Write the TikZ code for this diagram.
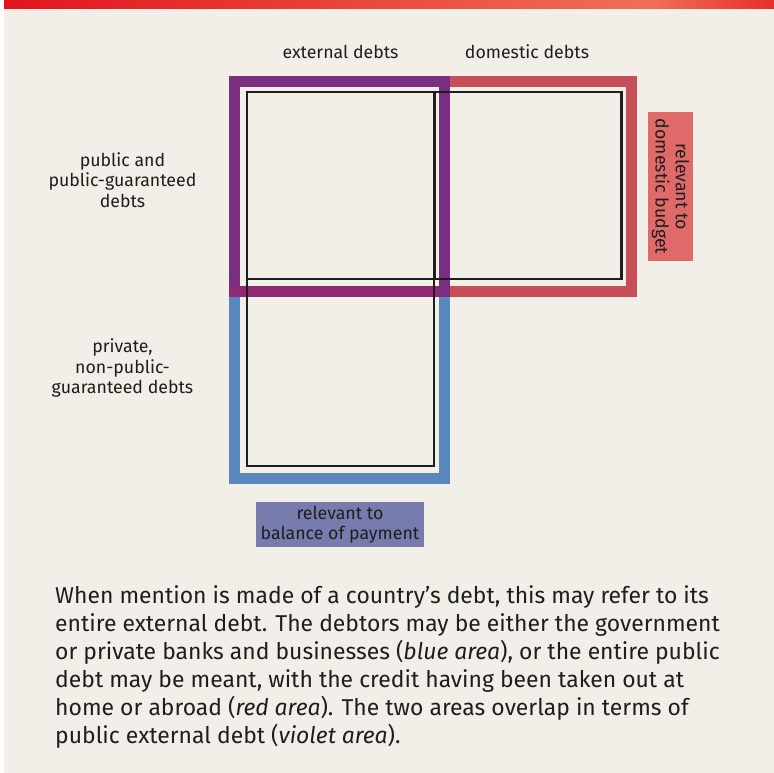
\documentclass[tikz,border=0pt]{standalone}
\usepackage{fontspec}
\setmainfont{Fira Sans}
\definecolor{bgbeige}{HTML}{F2EFE8}
\definecolor{barred}{HTML}{E2141B}
\definecolor{barsalmon}{HTML}{EF7059}
\definecolor{barend}{HTML}{E5302A}
\definecolor{bandblue}{HTML}{5B86BE}
\definecolor{bandred}{HTML}{C64E57}
\definecolor{bandpurple}{HTML}{7B2D82}
\definecolor{bandmagenta}{HTML}{8F2A72}
\definecolor{labred}{HTML}{E06A6A}
\definecolor{labblue}{HTML}{787BAD}
\definecolor{ink}{HTML}{1E1E1E}
\tikzset{
  band/.style={line width=11bp},
  cell/.style={draw=ink, line width=2.5bp, minimum width=187bp, minimum height=187bp, inner sep=0, fill=none},
  lab/.style={font=\fontsize{17.8}{20.5}\selectfont, text=ink, align=center, inner sep=0},
  tag/.style={lab, fill=#1, inner sep=0},
}
\begin{document}
\begin{tikzpicture}[x=1bp,y=-1bp]
\useasboundingbox (0,0) rectangle (774,773);
\fill[white] (0,0) rectangle (774,773);
\fill[bgbeige] (4,9) rectangle (774,773);
\shade[left color=barred, right color=barsalmon] (4,0) rectangle (650,9);
\shade[left color=barsalmon, right color=barend] (650,0) rectangle (774,9);

% coloured frames
\draw[band, bandblue] (234.5,81.5) rectangle (444.5,478.5);
\draw[band, bandred] (234.5,81.5) rectangle (631.5,291.5);
\draw[band, bandpurple] (234.5,81.5) rectangle (444.5,291.5);
\draw[band, bandmagenta] (229,291.5) -- (439,291.5);

% cells
\node[cell] (pubext) at (340.5,185.5) {};
\node[cell] (pubdom) at (528,185.5) {};
\node[cell] (privext) at (340.5,372.5) {};

% headers
\node[lab, anchor=base] (hext) at (340.5,59) {external debts};
\node[lab, anchor=base] (hdom) at (527,59) {domestic debts};
\node[lab] (rpub) at (122.5,180) {public and\\public-guaranteed\\debts};
\node[lab] (rpriv) at (122.5,368) {private,\\non-public-\\guaranteed debts};

% tags
\node[tag=labred, rotate=-90, minimum width=148bp, minimum height=45bp] (tdom) at (670.5,186.5) {relevant to\\domestic budget};
\node[tag=labblue, minimum width=168bp, minimum height=45bp] (tbal) at (340,524.5) {relevant to\\balance of payment};

% paragraph
\node[anchor=north west, inner sep=0, align=left, text=ink, font=\fontsize{23}{28}\selectfont] (para) at (55,585.5)
{When mention is made of a country’s debt, this may refer to its\\
entire external debt. The debtors may be either the government\\
or private banks and businesses (\textit{blue area}), or the entire public\\
debt may be meant, with the credit having been taken out at\\
home or abroad (\textit{red area}). The two areas overlap in terms of\\
public external debt (\textit{violet area}).};
\end{tikzpicture}
\end{document}
